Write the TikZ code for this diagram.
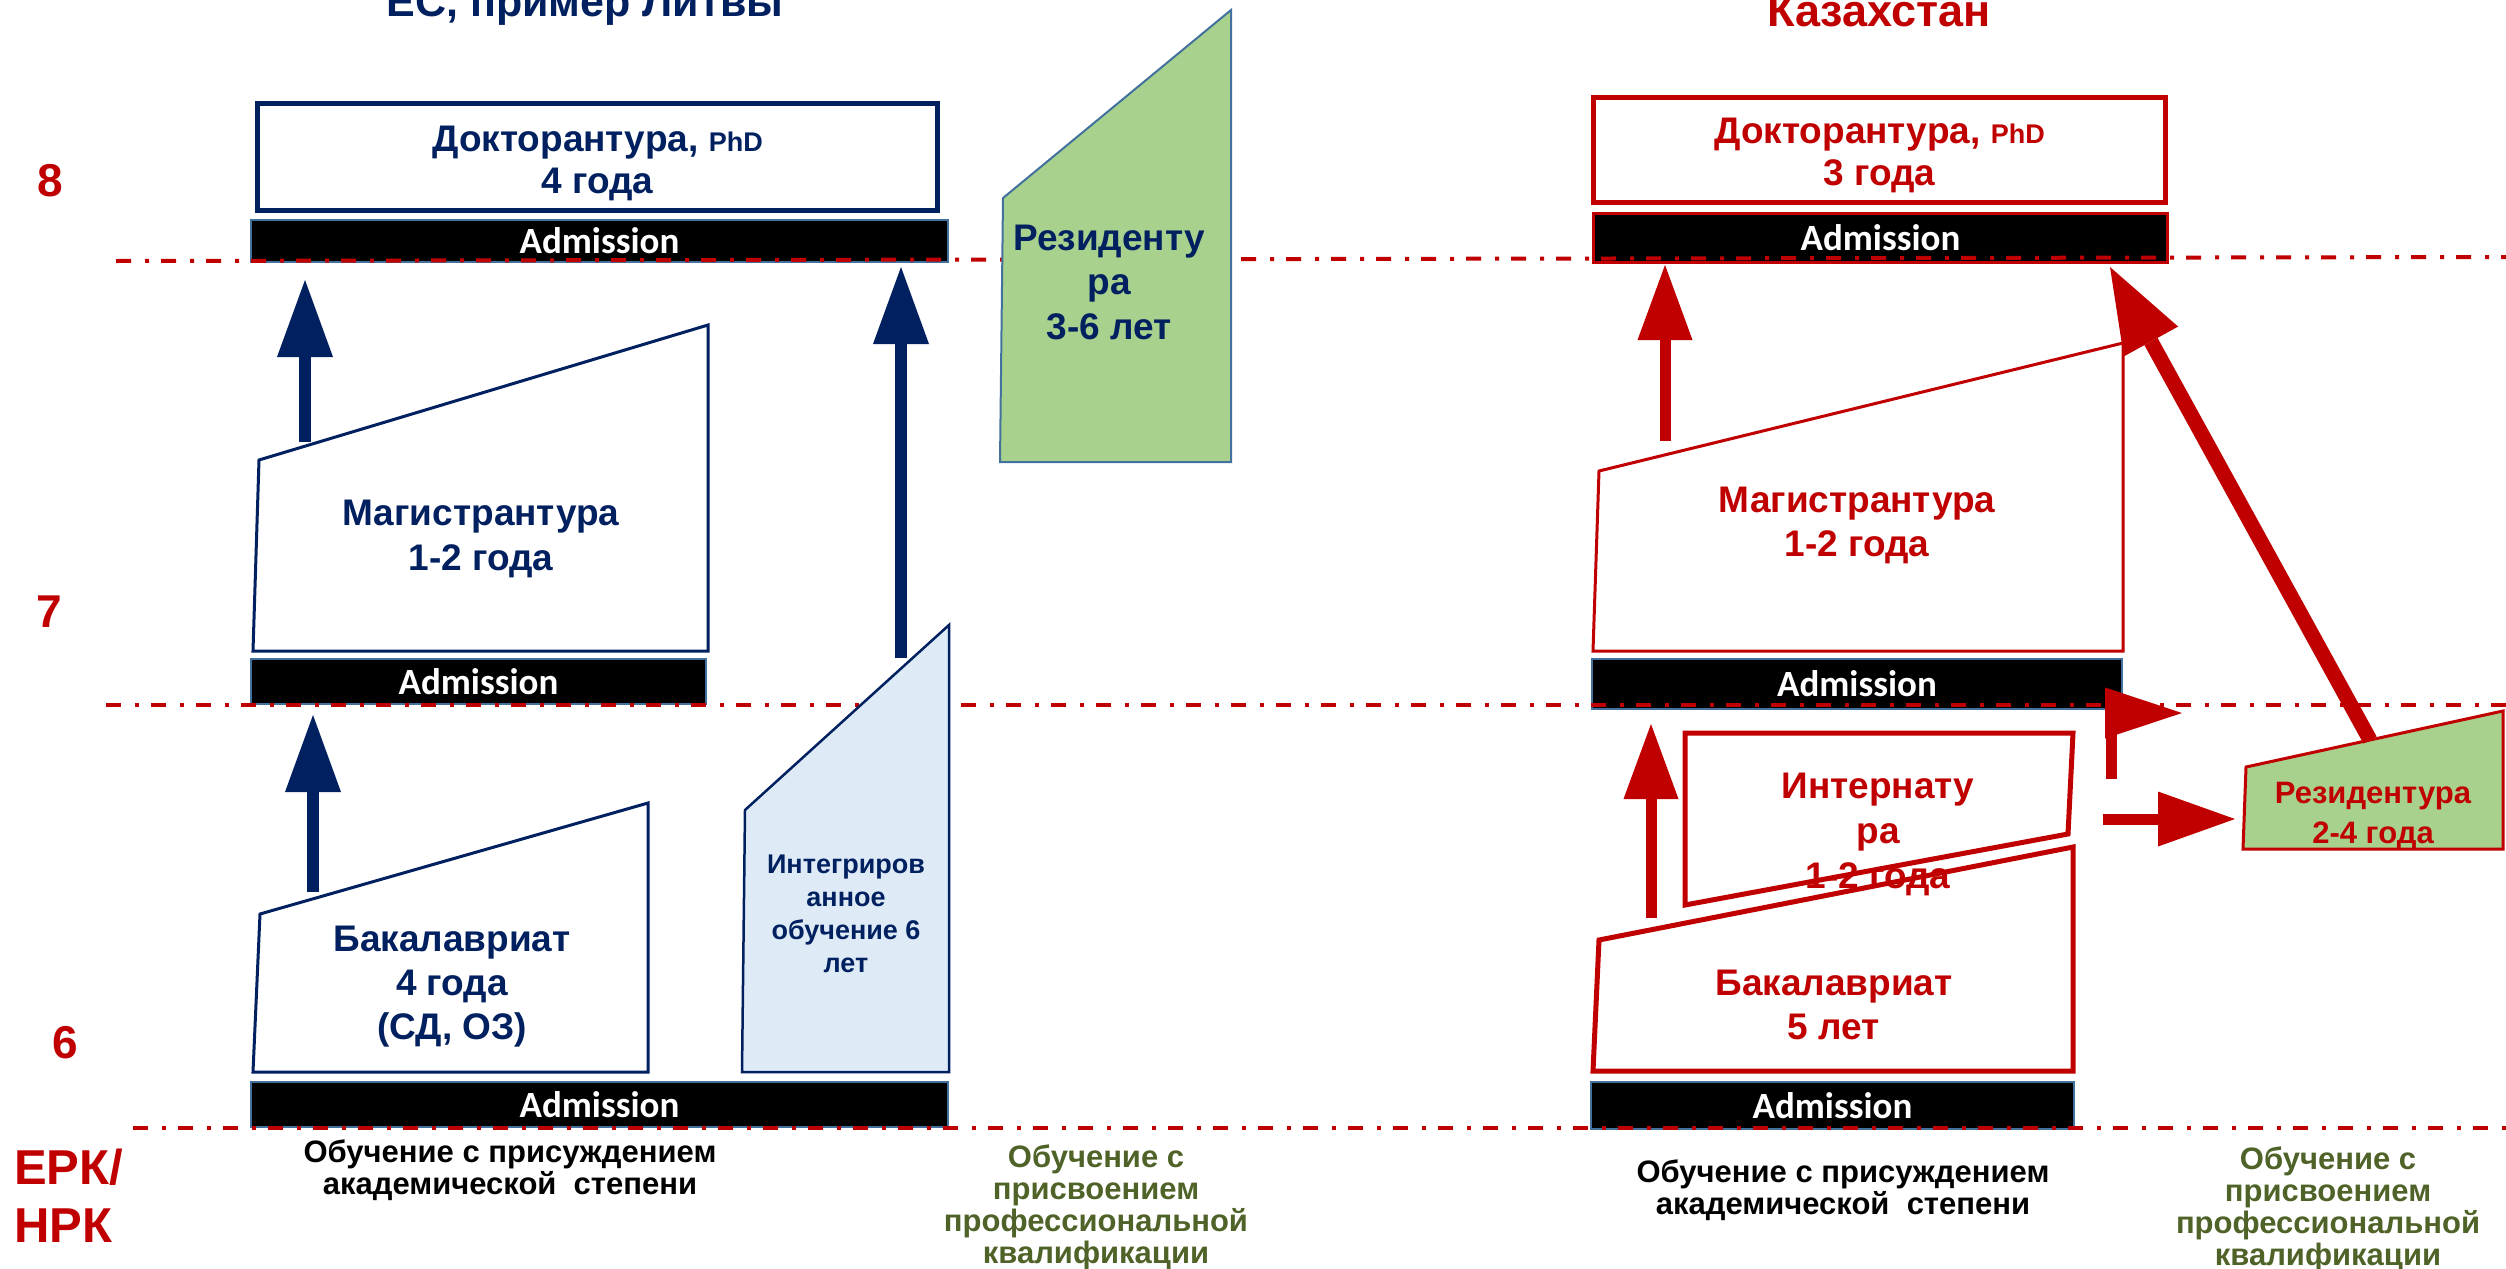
\documentclass[tikz,border=0pt]{standalone}
\usepackage{fontspec}
\setmainfont{Liberation Sans}
\newfontfamily\admfont{Carlito}
\usetikzlibrary{arrows.meta}
\definecolor{lvnavy}{HTML}{002060}
\definecolor{kzred}{HTML}{C00000}
\definecolor{resgreen}{HTML}{A9D18E}
\definecolor{intblue}{HTML}{DEEBF7}
\definecolor{profgreen}{HTML}{4F6228}
\definecolor{admline}{HTML}{41719C}
\newcommand{\setfs}[2]{\fontsize{#1}{#2}\selectfont\bfseries}

\begin{document}
\begin{tikzpicture}[x=1pt,y=-1pt,
  admbar/.style={draw=admline,line width=2pt,fill=black,text=white,inner sep=0pt,
    font=\admfont\bfseries\fontsize{37}{40}\selectfont},
  levelline/.style={kzred,line width=4pt,dash pattern=on 15pt off 14pt on 4pt off 12pt},
  lvshape/.style={draw=lvnavy,line width=3pt,fill=white},
  kzshape/.style={draw=kzred,line width=3pt},
  lvlabel/.style={text=lvnavy,align=center},
  kzlabel/.style={text=kzred,align=center},
  levelnum/.style={text=kzred,font=\setfs{46}{50}},
  lvarrow/.style={draw=lvnavy,line width=12pt,-{Triangle[length=77pt,width=56pt,line width=0pt]}},
  kzarrow/.style={draw=kzred,line width=11pt,-{Triangle[length=75pt,width=55pt,line width=0pt]}}]
  \clip (0,0) rectangle (2506,1269);

  \node[admbar,minimum width=697pt,minimum height=42pt] (lvadm8) at (599.5,241) {Admission};
  \node[admbar,minimum width=455pt,minimum height=45pt] (lvadm7) at (478.5,681.5) {Admission};
  \node[admbar,minimum width=697pt,minimum height=45pt] (lvadm6) at (599.5,1104.5) {Admission};
  \node[admbar,draw=kzred,line width=3pt,minimum width=574pt,minimum height=49pt] (kzadm8) at (1880.5,238) {Admission};
  \node[admbar,minimum width=530pt,minimum height=50pt] (kzadm7) at (1857,684) {Admission};
  \node[admbar,minimum width=483pt,minimum height=47pt] (kzadm6) at (1832.5,1105.5) {Admission};

  \draw[levelline] (116,261) -- (2506,257);
  \draw[levelline] (106,705) -- (2506,705);
  \draw[levelline] (133,1128) -- (2506,1128);

  \node[draw=lvnavy,line width=5pt,fill=white,minimum width=680pt,minimum height=107pt] (lvdoc) at (597.5,157) {};
  \draw[lvshape] (259,460) -- (708,325) -- (708,651) -- (253,651) -- cycle;
  \draw[lvshape] (260,914) -- (648,803) -- (648,1072) -- (253,1072) -- cycle;
  \draw[draw=lvnavy,line width=2.5pt,fill=intblue] (745,810) -- (949,625) -- (949,1072) -- (742,1072) -- cycle;
  \draw[draw=admline,line width=2pt,fill=resgreen] (1003,198) -- (1231,10) -- (1231,462) -- (1000,462) -- cycle;
  \node[lvlabel,font=\setfs{37}{42}] (lvdoctx) at (597.5,163)
    {Докторантура, {\fontsize{27}{30}\selectfont PhD}\\4 года};
  \node[lvlabel,font=\setfs{37}{45}] (lvmag) at (481,539) {Магистрантура\\1-2 года};
  \node[lvlabel,font=\setfs{37}{44}] (lvbak) at (452,987) {Бакалавриат\\4 года\\(СД, ОЗ)};
  \node[lvlabel,font=\setfs{27}{33}] (lvint) at (846,914) {Интегриров\\анное\\обучение 6\\лет};
  \node[lvlabel,font=\setfs{37}{44.5}] (lvres) at (1109,282) {Резиденту\\ра\\3-6 лет};

  \node[draw=kzred,line width=5pt,fill=white,minimum width=572pt,minimum height=105pt] (kzdoc) at (1879.5,150) {};
  \draw[kzshape,fill=white] (1599,471) -- (2123,343) -- (2123,651) -- (1593,651) -- cycle;
  \draw[kzshape,line width=5pt] (1685,733) -- (2073,733) -- (2068,834) -- (1685,905) -- cycle;
  \draw[kzshape,line width=5pt] (1599,940) -- (2073,847) -- (2073,1071) -- (1593,1071) -- cycle;
  \draw[kzshape,fill=resgreen] (2246,767) -- (2503,711) -- (2503,849) -- (2243,849) -- cycle;
  \node[kzlabel,font=\setfs{37}{42}] (kzdoctx) at (1879.5,155)
    {Докторантура, {\fontsize{27}{30}\selectfont PhD}\\3 года};
  \node[kzlabel,font=\setfs{37}{44}] (kzmag) at (1857,525) {Магистрантура\\1-2 года};
  \node[kzlabel,font=\setfs{37}{45}] (kzint) at (1878,834) {Интернату\\ра\\1-2 года};
  \node[kzlabel,font=\setfs{37}{44}] (kzbak) at (1834,1005) {Бакалавриат\\5 лет};
  \node[kzlabel,font=\setfs{31}{40}] (kzres) at (2373,816) {Резидентура\\2-4 года};

  \coordinate (lvmagA) at (305,442);
  \coordinate (lvdocA) at (305,280);
  \coordinate (lvbakA) at (313,892);
  \coordinate (lvmagB) at (313,715);
  \coordinate (lvintA) at (901,658);
  \coordinate (lvdocB) at (901,267);
  \draw[lvarrow] (lvmagA) -- (lvdocA);
  \draw[lvarrow] (lvbakA) -- (lvmagB);
  \draw[lvarrow] (lvintA) -- (lvdocB);

  \coordinate (kzmagA) at (1665,441);
  \coordinate (kzdocA) at (1665,265);
  \coordinate (kzbakA) at (1651,918);
  \coordinate (kzmagB) at (1651,724);
  \coordinate (kzintA) at (2111,779);
  \coordinate (kzmagC) at (2182,713);
  \coordinate (kzintB) at (2103,819);
  \coordinate (kzresA) at (2235,819);
  \coordinate (kzresB) at (2370,740);
  \coordinate (kzdocB) at (2110,267);
  \draw[kzarrow] (kzmagA) -- (kzdocA);
  \draw[kzarrow] (kzbakA) -- (kzmagB);
  \draw[kzarrow,-{Triangle[length=77pt,width=51pt,line width=0pt]}] (kzintA) |- (kzmagC);
  \draw[kzarrow,-{Triangle[length=77pt,width=55pt,line width=0pt]}] (kzintB) -- (kzresA);
  \draw[kzarrow,line width=15pt,-{Triangle[length=85pt,width=62pt,line width=0pt]}] (kzresB) -- (kzdocB);

  \node[text=lvnavy,font=\setfs{43}{50}] (lvtitle) at (585,6) {ЕС, пример Литвы};
  \node[text=kzred,font=\setfs{45}{50}] (kztitle) at (1879,11) {Казахстан};
  \node[levelnum] (lvl8) at (50,181) {8};
  \node[levelnum] (lvl7) at (49,612) {7};
  \node[levelnum] (lvl6) at (65,1043) {6};
  \node[levelnum,align=left,anchor=west,inner sep=0pt,font=\setfs{49}{58}] (erk) at (14,1196) {ЕРК/\\НРК};
  \node[align=center,font=\setfs{31}{32}] (lvdeg) at (510,1170) {Обучение с присуждением\\академической\ \ степени};
  \node[align=center,text=profgreen,font=\setfs{31}{32}] (lvprof) at (1096,1207)
    {Обучение с\\присвоением\\профессиональной\\квалификации};
  \node[align=center,font=\setfs{31}{32}] (kzdeg) at (1843,1190) {Обучение с присуждением\\академической\ \ степени};
  \node[align=center,text=profgreen,font=\setfs{31}{32}] (kzprof) at (2328,1209)
    {Обучение с\\присвоением\\профессиональной\\квалификации};
\end{tikzpicture}
\end{document}
